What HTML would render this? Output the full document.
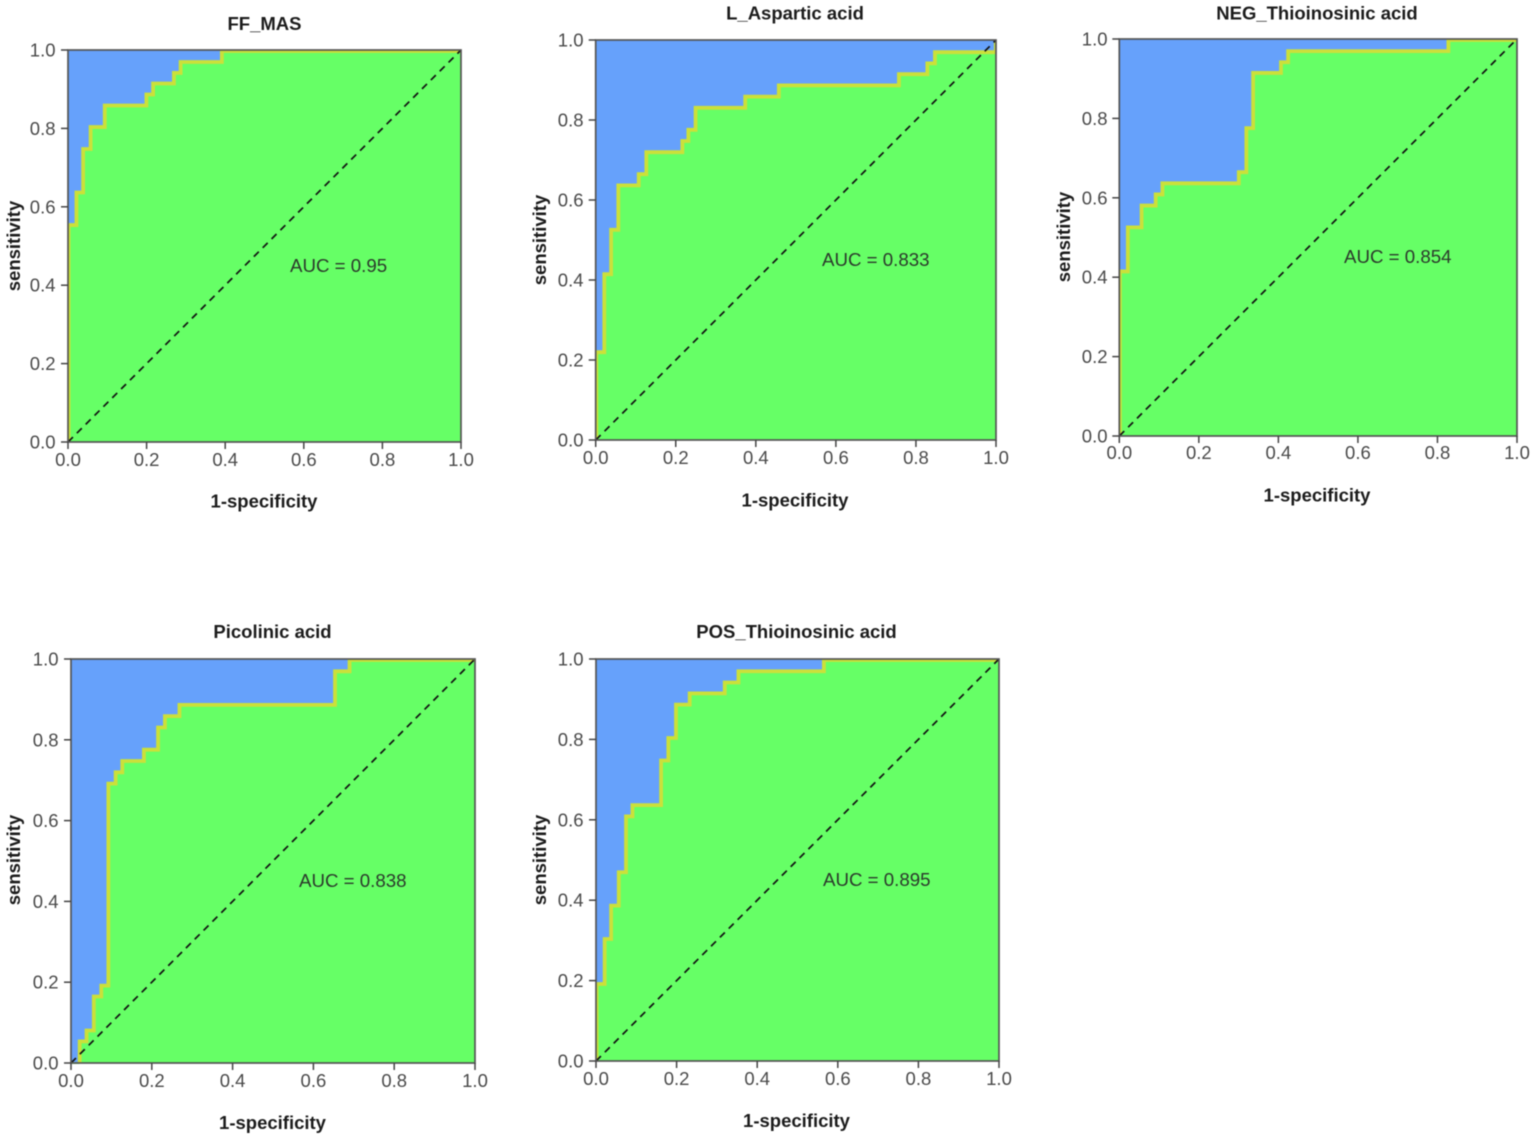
<!DOCTYPE html>
<html lang="en">
<head>
<meta charset="utf-8">
<title>ROC curves</title>
<style>
html,body{margin:0;padding:0;background:#fff;}
#figure{display:block;width:1535px;height:1140px;filter:blur(0.45px);font-family:"Liberation Sans",Arial,sans-serif;}
.title,.axis-title{font-weight:700;font-size:18.5px;fill:#1c1c1c;text-anchor:middle;}
.auc{font-size:18.7px;fill:#2c3a2c;}
.tick-label{font-size:18.5px;fill:#4a4a4a;}
</style>
</head>
<body>
<svg id="figure" xmlns="http://www.w3.org/2000/svg" width="1535" height="1140" viewBox="0 0 1535 1140">
  <g id="panel-0">
    <g class="marks"></g>
    <text class="title" x="264.5" y="30">FF_MAS</text>
    <text class="axis-title" x="264" y="507.5">1-specificity</text>
    <text class="axis-title" transform="translate(20,246) rotate(-90)">sensitivity</text>
    <text class="auc" x="290" y="272">AUC = 0.95</text>
  </g>
  <g id="panel-1">
    <g class="marks"></g>
    <text class="title" x="795" y="19.5">L_Aspartic acid</text>
    <text class="axis-title" x="795" y="506.5">1-specificity</text>
    <text class="axis-title" transform="translate(546,240) rotate(-90)">sensitivity</text>
    <text class="auc" x="822" y="266">AUC = 0.833</text>
  </g>
  <g id="panel-2">
    <g class="marks"></g>
    <text class="title" x="1317" y="19.5">NEG_Thioinosinic acid</text>
    <text class="axis-title" x="1317" y="501.5">1-specificity</text>
    <text class="axis-title" transform="translate(1070,237) rotate(-90)">sensitivity</text>
    <text class="auc" x="1344" y="263">AUC = 0.854</text>
  </g>
  <g id="panel-3">
    <g class="marks"></g>
    <text class="title" x="272.5" y="638">Picolinic acid</text>
    <text class="axis-title" x="272.5" y="1129">1-specificity</text>
    <text class="axis-title" transform="translate(20,860) rotate(-90)">sensitivity</text>
    <text class="auc" x="299" y="887">AUC = 0.838</text>
  </g>
  <g id="panel-4">
    <g class="marks"></g>
    <text class="title" x="796.5" y="638">POS_Thioinosinic acid</text>
    <text class="axis-title" x="796.5" y="1127">1-specificity</text>
    <text class="axis-title" transform="translate(546,860) rotate(-90)">sensitivity</text>
    <text class="auc" x="823" y="886">AUC = 0.895</text>
  </g>
</svg>
<script>
// Chart data: each curve rises at fpr[i] up to tpr[i]
const ffMasFpr = [0, 0.02, 0.037, 0.056, 0.092, 0.198, 0.215, 0.268, 0.285, 0.39];
const ffMasTpr = [0.556, 0.639, 0.75, 0.806, 0.861, 0.889, 0.917, 0.944, 0.972, 1];
const aspFpr = [0, 0.02, 0.037, 0.055, 0.106, 0.125, 0.215, 0.23, 0.248, 0.372, 0.456, 0.756, 0.827, 0.846, 0.998];
const aspTpr = [0.222, 0.417, 0.528, 0.639, 0.667, 0.722, 0.75, 0.778, 0.833, 0.861, 0.889, 0.917, 0.944, 0.972, 1];
const negFpr = [0, 0.02, 0.0545, 0.09, 0.107, 0.299, 0.318, 0.335, 0.405, 0.423, 0.826];
const negTpr = [0.417, 0.528, 0.583, 0.611, 0.639, 0.667, 0.778, 0.917, 0.944, 0.972, 1];
const picFpr = [0.02, 0.037, 0.055, 0.0735, 0.091, 0.109, 0.1255, 0.179, 0.214, 0.231, 0.267, 0.652, 0.688];
const picTpr = [0.056, 0.083, 0.167, 0.194, 0.694, 0.722, 0.75, 0.778, 0.833, 0.861, 0.889, 0.972, 1];
const posFpr = [0, 0.02, 0.036, 0.055, 0.073, 0.089, 0.16, 0.178, 0.197, 0.231, 0.318, 0.352, 0.564];
const posTpr = [0.194, 0.306, 0.389, 0.472, 0.611, 0.639, 0.75, 0.806, 0.889, 0.917, 0.944, 0.972, 1];
const tickValues = [0, 0.2, 0.4, 0.6, 0.8, 1];
const tickLabels = ["0.0", "0.2", "0.4", "0.6", "0.8", "1.0"];
const diagonalValues = [0, 1];

// Series per panel
const curveFpr = [ffMasFpr, aspFpr, negFpr, picFpr, posFpr];
const curveTpr = [ffMasTpr, aspTpr, negTpr, picTpr, posTpr];

// Plot frames (layout only)
const frames = [
  {l: 68, r: 461, b: 442, t: 50, xl: 466, yl: 55.5},
  {l: 595.7, r: 996, b: 440, t: 40, xl: 464, yl: 583.5},
  {l: 1119.3, r: 1517, b: 436, t: 39, xl: 459, yl: 1107.5},
  {l: 71, r: 475, b: 1063, t: 659, xl: 1087, yl: 58.5},
  {l: 596, r: 999, b: 1061, t: 659, xl: 1085, yl: 583.5}
];

const NS = "http://www.w3.org/2000/svg";
function make(tag, parent, attrs) {
  const el = document.createElementNS(NS, tag);
  for (const k in attrs) el.setAttribute(k, attrs[k]);
  parent.appendChild(el);
  return el;
}

frames.forEach(function (f, p) {
  const sx = function (v) { return f.l + v * (f.r - f.l); };
  const sy = function (v) { return f.b - v * (f.b - f.t); };
  const marks = document.querySelector("#panel-" + p + " .marks");
  const fpr = curveFpr[p];
  const tpr = curveTpr[p];

  // step path through the data, nudged to sit on the drawn edge of the source image
  const nudgeX = 0.6;
  const nudgeY = 1;
  let d = "M" + (sx(0) + nudgeX) + " " + (sy(0) + nudgeY);
  for (let i = 0; i < fpr.length; i++) {
    d += "H" + (sx(fpr[i]) + nudgeX) + "V" + (sy(tpr[i]) + nudgeY);
  }
  d += "H" + sx(1);

  const clip = make("clipPath", marks, {id: "clip-" + p});
  make("rect", clip, {x: f.l, y: f.t, width: f.r - f.l, height: f.b - f.t});

  const upper = make("rect", marks, {x: f.l, y: f.t, width: f.r - f.l, height: f.b - f.t, fill: "#66a1fb"});
  
  

  const lower = make("path", marks, {d: d + "V" + sy(0) + "H" + sx(0) + "Z", fill: "#66ff66"});
  
  

  const curve = make("path", marks, {d: d, fill: "none", stroke: "#cbe03a", "stroke-width": 3.8, "clip-path": "url(#clip-" + p + ")"});
  
  

  const diag = make("line", marks, {
    x1: sx(diagonalValues[0]), y1: sy(diagonalValues[0]),
    x2: sx(diagonalValues[1]), y2: sy(diagonalValues[1]),
    stroke: "#111", "stroke-width": 1.7, "stroke-dasharray": "7 5.5"
  });
  
  

  const frame = make("rect", marks, {x: f.l, y: f.t, width: f.r - f.l, height: f.b - f.t, fill: "none", stroke: "#555", "stroke-width": 1.7});
  
  

  tickValues.forEach(function (v, i) {
    const xTick = make("line", marks, {x1: sx(v), x2: sx(v), y1: f.b, y2: f.b + 7, stroke: "#444", "stroke-width": 1.5});
    
    

    const xLabel = make("text", marks, {x: sx(v), y: f.xl, "text-anchor": "middle", "class": "tick-label"});
    xLabel.textContent = tickLabels[i];
    
    

    const yTick = make("line", marks, {x1: f.l - 7, x2: f.l, y1: sy(v), y2: sy(v), stroke: "#444", "stroke-width": 1.5});
    
    

    const yLabel = make("text", marks, {x: f.yl, y: sy(v) + 6.5, "text-anchor": "end", "class": "tick-label"});
    yLabel.textContent = tickLabels[i];
    
    
  });
});
</script>
</body>
</html>
